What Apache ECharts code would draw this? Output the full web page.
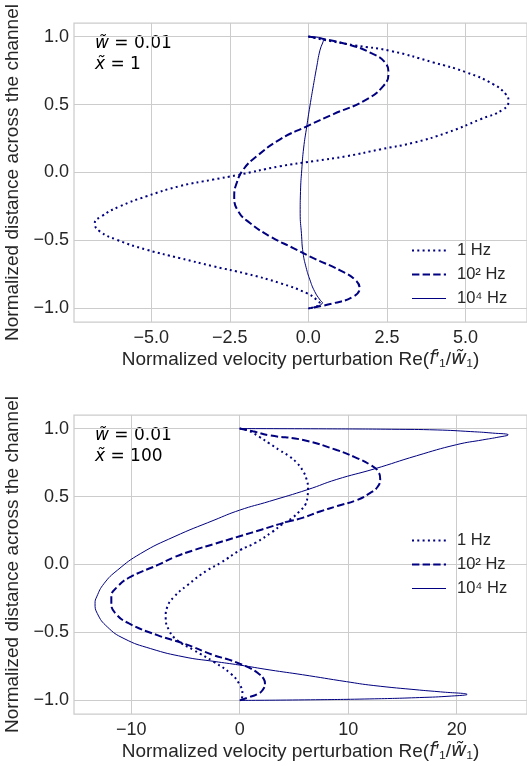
<!DOCTYPE html>
<html>
<head>
<meta charset="utf-8">
<script src="https://cdn.jsdelivr.net/npm/echarts@6/dist/echarts.min.js"></script>
<style>html,body{margin:0;padding:0;background:#fff}#c{width:527px;height:766px}</style>
</head>
<body>
<div id="c"></div>
<script>
// ---- data (x = Re(f1'/w1), y = normalized distance) ----
const seriesNames = ['1 Hz', '10\u00B2 Hz', '10\u2074 Hz'];
const yTicks = [-1.0, -0.5, 0.0, 0.5, 1.0];
const topXTicks = [-5.0, -2.5, 0.0, 2.5, 5.0];
const botXTicks = [-10, 0, 10, 20];
const topLabel = ['\u0077\u0303 = 0.01', '\u0078\u0303 = 1'];
const botLabel = ['\u0077\u0303 = 0.01', '\u0078\u0303 = 100'];

const top1Hz = [[0,1],[0.48,0.977],[1.49,0.935],[2.61,0.895],[3.98,0.81],[5.04,0.736],[5.89,0.649],[6.29,0.575],[6.37,0.526],[6.21,0.465],[5.47,0.391],[4.41,0.293],[3.34,0.219],[2.28,0.17],[1.22,0.12],[0.16,0.083],[-0.90,0.046],[-2.28,-0.02],[-3.03,-0.052],[-4.09,-0.10],[-5.15,-0.175],[-6.00,-0.249],[-6.58,-0.322],[-6.80,-0.375],[-6.64,-0.433],[-6.11,-0.494],[-5.15,-0.568],[-4.09,-0.63],[-3.03,-0.69],[-1.97,-0.745],[-0.90,-0.814],[-0.05,-0.888],[0.27,-0.937],[0.37,-0.965],[0,-1]];
const top100Hz = [[0,1],[1.22,0.945],[2.07,0.871],[2.44,0.81],[2.55,0.736],[2.39,0.637],[1.76,0.526],[0.80,0.43],[-0.05,0.34],[-0.90,0.244],[-1.64,0.12],[-2.07,0.022],[-2.28,-0.076],[-2.36,-0.175],[-2.23,-0.286],[-1.86,-0.371],[-1.22,-0.47],[-0.48,-0.556],[0.16,-0.63],[1.01,-0.72],[1.49,-0.79],[1.63,-0.851],[1.43,-0.913],[0.80,-0.962],[0,-1]];
const top10kHz = [[0,1],[0.48,0.975],[0.37,0.9],[0.26,0.77],[0.16,0.64],[0.05,0.49],[-0.05,0.34],[-0.15,0.18],[-0.21,0.02],[-0.25,-0.14],[-0.26,-0.30],[-0.22,-0.45],[-0.17,-0.59],[-0.07,-0.70],[0.05,-0.79],[0.2,-0.875],[0.38,-0.94],[0.45,-0.958],[0,-1]];

const bot1Hz = [[0,1],[0.84,0.983],[1.8,0.94],[2.75,0.89],[3.7,0.84],[4.6,0.795],[5.3,0.745],[5.82,0.69],[6.15,0.63],[6.3,0.56],[6.25,0.50],[6.05,0.44],[5.5,0.39],[4.8,0.34],[3.9,0.295],[3.0,0.24],[1.46,0.16],[0.02,0.105],[-1.7,0.015],[-2.98,-0.042],[-4.82,-0.152],[-6.05,-0.238],[-6.67,-0.312],[-6.82,-0.385],[-6.51,-0.484],[-5.75,-0.557],[-4.21,-0.631],[-2.37,-0.717],[-0.83,-0.803],[-0.06,-0.876],[0.25,-0.95],[0.2,-0.985],[0,-1]];
const bot100Hz = [[0,1],[1.2,0.98],[2.75,0.95],[5.86,0.916],[8.94,0.842],[10.6,0.79],[12.1,0.73],[12.8,0.68],[12.95,0.63],[12.7,0.57],[12.0,0.525],[10.8,0.474],[9.0,0.43],[7.4,0.39],[5.86,0.345],[4.2,0.31],[2.07,0.258],[0,0.208],[-2.4,0.15],[-4.21,0.106],[-6.0,0.055],[-7.59,-0.005],[-10.05,-0.091],[-11.27,-0.164],[-11.83,-0.238],[-11.83,-0.287],[-11.43,-0.361],[-10.2,-0.434],[-7.59,-0.52],[-5.13,-0.582],[-2.37,-0.668],[-1.0,-0.7],[0,-0.73],[1.0,-0.765],[1.7,-0.80],[2.2,-0.84],[2.33,-0.875],[2.1,-0.925],[1.6,-0.955],[0.8,-0.978],[0,-1]];
const bot10kHz = [[0,1],[8,0.998],[14,0.995],[18.2,0.99],[21.3,0.978],[23.3,0.967],[24.75,0.954],[23.7,0.935],[22.4,0.917],[20.0,0.882],[16.3,0.80],[12.4,0.703],[8.9,0.625],[6.3,0.552],[2.75,0.465],[0,0.40],[-2.37,0.326],[-6.05,0.204],[-9.12,0.081],[-11.27,-0.042],[-12.5,-0.14],[-13.18,-0.238],[-13.33,-0.287],[-13.12,-0.361],[-12.2,-0.459],[-10.66,-0.545],[-8.2,-0.619],[-5.13,-0.68],[-2.37,-0.713],[0,-0.74],[2.79,-0.776],[5.79,-0.811],[9.84,-0.862],[12.3,-0.89],[16.59,-0.924],[18.5,-0.937],[20.96,-0.956],[19.5,-0.968],[16.59,-0.979],[12,-0.989],[6,-0.996],[0,-1]];

// ---- styling ----
const NAVY = '#000080';
const TXT = '#262626';
const GRIDC = '#cccccc';
const FONT = '"Liberation Sans", Arial, sans-serif';
const minus = v => (v < 0 ? '\u2212' : '') + Math.abs(v);
const fmt1 = v => (v < 0 ? '\u2212' : '') + Math.abs(v).toFixed(1);

const lineStyles = [
  {color: NAVY, width: 2, type: [2, 3.3], cap: 'butt'},
  {color: NAVY, width: 2, type: [7.4, 3.2], cap: 'butt'},
  {color: NAVY, width: 1, type: 'solid'}
];

function xAxisCfg(gridIndex, min, max, ticks, fmt, interval) {
  return {
    type: 'value', gridIndex, min, max,
    minInterval: interval, maxInterval: interval,
    axisLine: {show: false},
    axisTick: {show: false, customValues: ticks},
    axisLabel: {customValues: ticks, formatter: fmt, color: TXT, fontSize: 18, fontFamily: FONT, margin: 7},
    splitLine: {show: true, lineStyle: {color: GRIDC, width: 1}},
    name: 'Normalized velocity perturbation Re({i|f}\u2032\u2081/{i|w\u0303}\u2081)',
    nameLocation: 'middle', nameGap: 28,
    nameTextStyle: {color: TXT, fontSize: 19, fontFamily: FONT, verticalAlign: 'top',
      rich: {i: {fontStyle: 'italic', fontSize: 19, fontFamily: '"DejaVu Sans", sans-serif', color: TXT}}}
  };
}
function yAxisCfg(gridIndex) {
  return {
    type: 'value', gridIndex, min: -1.1, max: 1.1,
    minInterval: 0.5, maxInterval: 0.5,
    axisLine: {show: false},
    axisTick: {show: false, customValues: yTicks},
    axisLabel: {customValues: yTicks, formatter: fmt1, color: TXT, fontSize: 18, fontFamily: FONT, margin: 5},
    splitLine: {show: true, lineStyle: {color: GRIDC, width: 1}},
    name: 'Normalized distance across the channel',
    nameLocation: 'middle', nameGap: 47, nameRotate: 90,
    nameTextStyle: {color: TXT, fontSize: 19, fontFamily: FONT}
  };
}
function mkSeries(data, idx, xi) {
  return {
    type: 'line', name: seriesNames[idx], data,
    xAxisIndex: xi, yAxisIndex: xi,
    showSymbol: false, symbol: 'none', smooth: 0.5,
    lineStyle: lineStyles[idx], itemStyle: {color: NAVY},
    animation: false, silent: true
  };
}
function legendCfg(top) {
  return {
    data: seriesNames.map((n, i) => ({name: n, lineStyle: {width: lineStyles[i].width, type: lineStyles[i].type, color: NAVY}})),
    orient: 'vertical', left: 406, top,
    itemWidth: 34, itemHeight: 12, itemGap: 7,
    itemStyle: {opacity: 0, color: 'rgba(0,0,0,0)', borderWidth: 0},
    textStyle: {color: TXT, fontSize: 16.5, fontFamily: FONT, padding: [0, 0, 0, 6]},
    selectedMode: false
  };
}
function annot(lines, top) {
  return {
    type: 'text', left: 95, top,
    style: {
      text: lines.map(l => '{i|' + l.slice(0, 2) + '}' + l.slice(2)).join('\n'),
      fill: '#000', font: '17px "DejaVu Sans"', lineHeight: 21,
      rich: {i: {fontStyle: 'italic', fontSize: 17, fontFamily: '"DejaVu Sans"', fill: '#000', lineHeight: 21}}
    }
  };
}

const gridBase = {left: 74, width: 453, height: 299, show: true, borderColor: GRIDC, borderWidth: 1.25,
  backgroundColor: '#fff', containLabel: false, outerBoundsMode: 'none'};

const chart = echarts.init(document.getElementById('c'), null, {renderer: 'canvas'});
chart.setOption({
  backgroundColor: '#fff',
  animation: false,
  grid: [Object.assign({top: 23}, gridBase), Object.assign({top: 415}, gridBase)],
  xAxis: [
    xAxisCfg(0, -7.46, 6.96, topXTicks, fmt1, 2.5),
    xAxisCfg(1, -15.27, 26.48, botXTicks, minus, 10)
  ],
  yAxis: [yAxisCfg(0), yAxisCfg(1)],
  legend: [legendCfg(237), legendCfg(527)],
  graphic: [annot(topLabel, 33), annot(botLabel, 425)],
  series: [
    mkSeries(top1Hz, 0, 0), mkSeries(top100Hz, 1, 0), mkSeries(top10kHz, 2, 0),
    mkSeries(bot1Hz, 0, 1), mkSeries(bot100Hz, 1, 1), mkSeries(bot10kHz, 2, 1)
  ]
});
</script>
</body>
</html>
